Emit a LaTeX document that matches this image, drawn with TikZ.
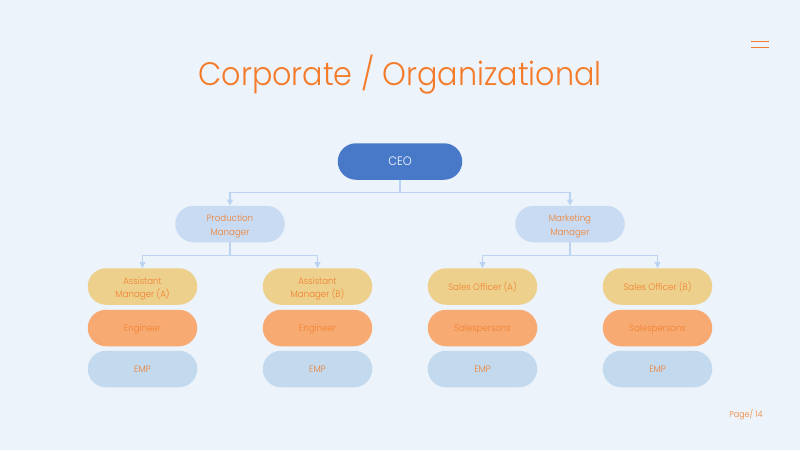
\documentclass[tikz,border=0pt]{standalone}
\usepackage{fontspec}
\setmainfont{Poppins}[UprightFont=* Light,FakeStretch=0.93]
\usetikzlibrary{shapes.misc,arrows.meta}
\definecolor{bgc}{HTML}{ECF3FA}
\definecolor{orangeT}{HTML}{F47B2A}
\definecolor{ceoC}{HTML}{4779C8}
\definecolor{mgrC}{HTML}{C8DBF3}
\definecolor{asstC}{HTML}{EDD08C}
\definecolor{engC}{HTML}{F7AA72}
\definecolor{empC}{HTML}{C2D9EE}
\definecolor{lineC}{HTML}{BBD3F2}
\definecolor{labelC}{HTML}{F0802F}
\newcommand{\twolines}[2]{\raisebox{-4pt}[0pt][0pt]{\begin{tabular}{@{}c@{}}#1\\#2\end{tabular}}}
\newcommand{\oneline}[1]{\raisebox{-3.6pt}[0pt][0pt]{#1}}
\tikzset{
  pill/.style={rounded rectangle,minimum width=109.5pt,minimum height=36.5pt,inner sep=0pt,align=center,
    text=labelC,font=\fontsize{9.3}{13.3}\selectfont},
  ceobox/.style={pill,fill=ceoC,text=white,minimum width=124.5pt,font=\fontsize{12.2}{14}\selectfont},
  mgr/.style={pill,fill=mgrC},
  asst/.style={pill,fill=asstC},
  engr/.style={pill,fill=engC},
  emp/.style={pill,fill=empC},
  conn/.style={draw=lineC,line width=1.1pt,-{Triangle[length=6pt,width=6pt]}},
  trunk/.style={draw=lineC,line width=1.1pt},
  mark line/.style={draw=orangeT,line width=1pt}
}
\begin{document}
\begin{tikzpicture}[x=1pt,y=-1pt]
\useasboundingbox (0,0) rectangle (800,450);
\fill[bgc] (0,0) rectangle (800,450);
\node[text=orangeT,font=\fontsize{32.5}{40}\selectfont] (title) at (400,75) {Corporate / Organizational};
\coordinate (m1a) at (751,41); \coordinate (m1b) at (769,41);
\coordinate (m2a) at (751,47.3); \coordinate (m2b) at (769,47.3);
\draw[mark line] (m1a) -- (m1b);
\draw[mark line] (m2a) -- (m2b);
\node[ceobox] (ceo) at (400,161.5) {\raisebox{-4.4pt}[0pt][0pt]{CEO}};
\node[mgr] (pm) at (230,224) {\twolines{Production}{Manager}};
\node[mgr] (mm) at (570,224) {\twolines{Marketing}{Manager}};
\node[asst] (aa) at (142.5,286.5) {\twolines{Assistant}{Manager (A)}};
\node[asst] (ab) at (317.5,286.5) {\twolines{Assistant}{Manager (B)}};
\node[asst] (sa) at (482.5,286.5) {\oneline{Sales Officer (A)}};
\node[asst] (sb) at (657.5,286.5) {\oneline{Sales Officer (B)}};
\foreach \n/\x/\t in {ea/142.5/Engineer,eb/317.5/Engineer,ec/482.5/Salespersons,ed/657.5/Salespersons}{
  \node[engr] (\n) at (\x,328) {\oneline{\t}};
}
\foreach \n/\x in {pa/142.5,pb/317.5,pc/482.5,pd/657.5}{
  \node[emp] (\n) at (\x,369) {\oneline{EMP}};
}
\coordinate (b0) at (400,192.5);
\coordinate (b1) at (230,255.5);
\coordinate (b2) at (570,255.5);
\draw[trunk] (ceo.south) -- (b0);
\draw[conn] (b0) -| (pm.north);
\draw[conn] (b0) -| (mm.north);
\draw[trunk] (pm.south) -- (b1);
\draw[conn] (b1) -| (aa.north);
\draw[conn] (b1) -| (ab.north);
\draw[trunk] (mm.south) -- (b2);
\draw[conn] (b2) -| (sa.north);
\draw[conn] (b2) -| (sb.north);
\node[text=labelC,font=\fontsize{8.6}{10}\selectfont] (page) at (746,415) {Page/ 14};
\end{tikzpicture}
\end{document}
